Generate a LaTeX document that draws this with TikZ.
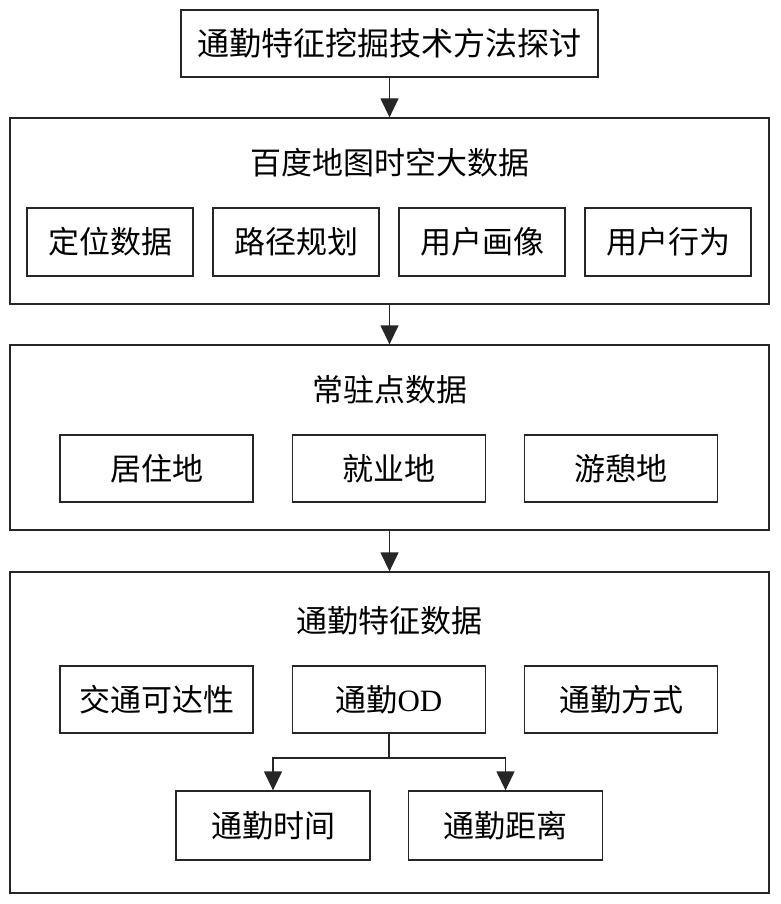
\documentclass[tikz,border=0pt]{standalone}
\usepackage{fontspec}
\setmainfont{Liberation Serif}
\newfontfamily\cjk{Noto Sans CJK SC}
\usetikzlibrary{arrows.meta}
\begin{document}
\begin{tikzpicture}[x=1pt,y=-1pt,
  ln/.style={draw=black!85, line width=1.3pt},
  frame/.style={ln, rectangle, inner sep=0pt},
  subbox/.style={ln, rectangle, inner sep=0pt, font=\cjk\fontsize{31}{31}\selectfont},
  ttl/.style={inner sep=0pt, font=\cjk\fontsize{31}{31}\selectfont},
  arr/.style={draw=black!85, line width=1.3pt, -{Triangle[length=19pt,width=18pt]}}
]
\useasboundingbox (0,0) rectangle (780,904);
% top
\node[subbox, minimum width=417pt, minimum height=67pt, font=\cjk\fontsize{32}{32}\selectfont] (top) at (389.5,43.5) {通勤特征挖掘技术方法探讨};
% box 2
\node[frame, minimum width=759pt, minimum height=186pt] (b2) at (389.5,211) {};
\node[ttl] (t2) at (389.5,163) {百度地图时空大数据};
\node[subbox, minimum width=166pt, minimum height=68pt] (s21) at (110,242) {定位数据};
\node[subbox, minimum width=166pt, minimum height=68pt] (s22) at (296,242) {路径规划};
\node[subbox, minimum width=166pt, minimum height=68pt] (s23) at (482,242) {用户画像};
\node[subbox, minimum width=166pt, minimum height=68pt] (s24) at (668,242) {用户行为};
% box 3
\node[frame, minimum width=759pt, minimum height=185pt] (b3) at (389.5,437.5) {};
\node[ttl] (t3) at (389.5,390) {常驻点数据};
\node[subbox, minimum width=193pt, minimum height=67pt] (s31) at (156.5,468.5) {居住地};
\node[subbox, minimum width=193pt, minimum height=67pt] (s32) at (389,468.5) {就业地};
\node[subbox, minimum width=193pt, minimum height=67pt] (s33) at (621,468.5) {游憩地};
% box 4
\node[frame, minimum width=759pt, minimum height=321pt] (b4) at (389.5,732.5) {};
\node[ttl] (t4) at (389.5,621) {通勤特征数据};
\node[subbox, minimum width=193pt, minimum height=67pt] (s41) at (156.5,699.5) {交通可达性};
\node[subbox, minimum width=193pt, minimum height=67pt] (od) at (389,699.5) {通勤{\rmfamily OD}};
\node[subbox, minimum width=193pt, minimum height=67pt] (s43) at (621,699.5) {通勤方式};
\node[subbox, minimum width=194pt, minimum height=69pt] (tm) at (273,825.5) {通勤时间};
\node[subbox, minimum width=194pt, minimum height=69pt] (dist) at (505.5,825.5) {通勤距离};
% connectors
\draw[arr] (top.south) -- (top.south |- b2.north);
\draw[arr] (b2.south -| top.south) -- (top.south |- b3.north);
\draw[arr] (b3.south -| top.south) -- (top.south |- b4.north);
\coordinate (fk) at (389,758);
\draw[ln] (od.south) -- (fk);
\draw[arr] (fk) -| (tm.north);
\draw[arr] (fk) -| (dist.north);
\end{tikzpicture}
\end{document}
